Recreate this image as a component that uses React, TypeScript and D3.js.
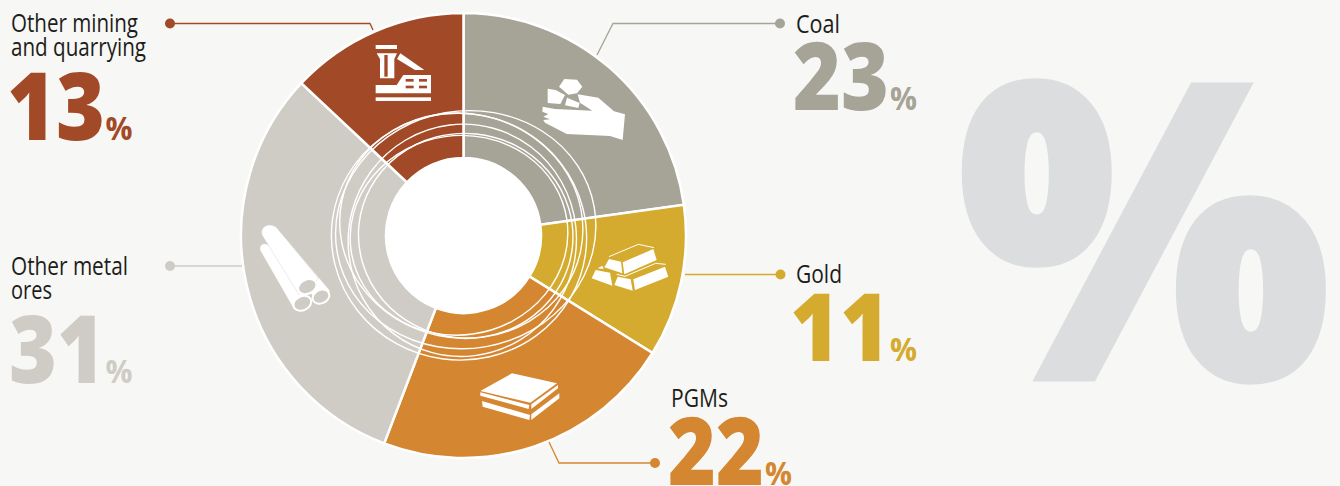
import React from "react";
import * as d3 from "d3";

const categories = ["Coal", "Gold", "PGMs", "Other metal ores", "Other mining and quarrying"];
const values = [22.8, 11.05, 21.95, 31.2, 13];
const colours = ["#a6a397", "#d4ab2e", "#d58630", "#cfccc5", "#a24a28"];

const BG = "#f7f7f5";
const CX = 463.5;
const CY = 235.5;
const OUTER = 222.5;
const INNER = 77.5;
const SANS = "'Open Sans', 'Noto Sans', sans-serif";

const ringRx = [127.7, 130.5, 114, 107.3, 109, 122];
const ringRy = [123.3, 118.7, 116.3, 102.3, 99.7, 112.3];
const ringDx = [-4.5, 2.2, -1.2, 2.2, -4.5, -2.2];
const ringDy = [1.2, -5.8, 4.8, 0.2, -0.2, -9.8];
const ringRot = [8, -10, 15, 6, -8, 12];

type Lab = { lines: string[]; lineX: number; baselines: number[]; widths: number[]; num: string; numX: number; numW: number; numY: number; pctX: number; leader: [number, number][] };

const labels: Lab[] = [
  { lines: ["Coal"], lineX: 796, baselines: [33], widths: [44], num: "23", numX: 793, numW: 96, numY: 110, pctX: 890, leader: [[780, 23.5], [613, 23.5], [597, 55]] },
  { lines: ["Gold"], lineX: 796, baselines: [283], widths: [46], num: "11", numX: 790, numW: 100, numY: 361, pctX: 890, leader: [[780.5, 274.5], [685, 274.5]] },
  { lines: ["PGMs"], lineX: 671, baselines: [407], widths: [57], num: "22", numX: 668, numW: 96, numY: 485, pctX: 765, leader: [[655, 463], [559, 463], [549, 442]] },
  { lines: ["Other metal", "ores"], lineX: 11, baselines: [275, 299], widths: [117, 41], num: "31", numX: 9, numW: 96, numY: 383, pctX: 105.5, leader: [[170, 266], [242, 266]] },
  { lines: ["Other mining", "and quarrying"], lineX: 11, baselines: [32, 56], widths: [127, 135], num: "13", numX: 7, numW: 98, numY: 140, pctX: 105.5, leader: [[170, 23.5], [370, 23.5], [373, 30]] },
];

function Icons() {
  const w = "#fff";
  return (
    <g fill={w}>
      {/* mining */}
      <g transform="translate(365,35) scale(0.3333)">
        <rect x="32" y="30" width="64" height="12" />
        <path d="M35 55H96L88 72V130H45V72Z" />
        <rect x="58" y="60" width="10" height="65" fill={colours[4]} />
        <path d="M106 55L178 105H150L96 72Z" />
        <path d="M32 150H95L115 120H198V175H32Z" />
        <g fill={colours[4]}>
          <rect x="122" y="132" width="24" height="8" />
          <rect x="162" y="132" width="24" height="8" />
          <rect x="122" y="152" width="24" height="8" />
          <rect x="162" y="152" width="24" height="8" />
        </g>
        <rect x="32" y="187" width="166" height="11" />
      </g>
      {/* coal */}
      <g transform="translate(535,70) scale(0.3333)">
        <path d="M88 27L126 29L142 50L126 70L100 74L72 50Z" />
        <path d="M38 56L62 60L90 75L76 102L38 99Z" />
        <path d="M96 83L134 99L130 114L90 106Z" />
        <path d="M23 110L60 117L172 122L135 98L128 73L190 83L237 124L270 133L263 210L225 198L95 192L30 158L25 150L45 148L25 140L40 132L22 125Z" />
      </g>
      {/* gold */}
      <g transform="translate(585,235) scale(0.3333)">
        <path d="M58 97L72 72L108 80L112 115Z" />
        <path d="M113 82L205 42L215 75L118 118Z" />
        <path d="M72 65L160 28L207 38" fill="none" stroke={w} strokeWidth="3" />
        <path d="M20 130L32 105L75 113L82 152Z" />
        <path d="M38 100L52 92L56 102Z" />
        <path d="M88 150L98 125L137 133L143 167Z" />
        <path d="M145 133L240 95L250 125L150 165Z" />
        <path d="M95 118L120 124L212 85L242 88" fill="none" stroke={w} strokeWidth="3" />
      </g>
      {/* platinum plates */}
      <g transform="translate(472,365) scale(0.3333)">
        <path d="M25 78L120 25L255 55L175 113Z" />
        <path d="M25 82L172 120L170 132L25 92Z" />
        <path d="M178 118L258 60L258 70L178 132Z" />
        <path d="M30 108L174 150L172 165L32 125Z" />
        <path d="M178 148L262 85L262 100L178 165Z" />
      </g>
      {/* pipes */}
      <g transform="translate(250,220) scale(0.3333)" stroke={colours[3]} strokeWidth="1.2">
        <path d="M104 52L240 212L205 248L150 180Z" />
        <path d="M31 92C25 72 45 65 58 78L175 205L132 268Z" />
        <path d="M36 45C28 15 68 5 84 28L206 176L147 224Z" />
        <ellipse cx="172" cy="200" rx="29" ry="21" transform="rotate(-25 172 200)" stroke={w} strokeWidth="6" fill={colours[3]} />
        <ellipse cx="213" cy="230" rx="26" ry="20" transform="rotate(-25 213 230)" stroke={w} strokeWidth="6" fill={colours[3]} />
        <ellipse cx="157" cy="250" rx="28" ry="21" transform="rotate(-25 157 250)" stroke={w} strokeWidth="6" fill={colours[3]} />
      </g>
    </g>
  );
}

export default function App() {
  const pie = d3.pie<number>().sort(null).value((d) => d);
  const arc = d3.arc<d3.PieArcDatum<number>>().innerRadius(INNER).outerRadius(OUTER);
  const arcs = pie(values);
  const lineGen = d3.line();

  return (
    <svg width={1340} height={486} style={{ position: "absolute", left: 0, top: 0, background: BG }} fontFamily={SANS}>
      <rect width={1340} height={486} fill={BG} />
      <text x={957} y={379} fontSize={412} fontWeight={800} fill="#dcdddf" stroke="#dcdddf" strokeWidth={5} textLength={374} lengthAdjust="spacingAndGlyphs">%</text>

      <g>
        {arcs.map((a, i) => (
          <path key={categories[i]} transform={`translate(${CX},${CY})`} d={arc(a) ?? ""} fill={colours[i]} stroke="#fff" strokeWidth={2.5} />
        ))}
      </g>
      <circle cx={CX} cy={CY} r={INNER} fill="#fff" />

      <g fill="none" stroke="#fff" strokeWidth={1.4}>
        {ringRx.map((rx, i) => (
          <ellipse key={i} cx={CX + ringDx[i]} cy={CY + ringDy[i]} rx={rx} ry={ringRy[i]} transform={`rotate(${ringRot[i]} ${CX + ringDx[i]} ${CY + ringDy[i]})`} />
        ))}
      </g>

      <Icons />

      {labels.map((l, i) => (
        <g key={categories[i]}>
          <path d={lineGen(l.leader) ?? ""} fill="none" stroke={colours[i]} strokeWidth={1.3} />
          <circle cx={l.leader[0][0]} cy={l.leader[0][1]} r={5} fill={colours[i]} />
          {l.lines.map((t, j) => (
            <text key={t} x={l.lineX} y={l.baselines[j]} fontSize={26} fontWeight={400} fill="#1d1d1b" textLength={l.widths[j]} lengthAdjust="spacingAndGlyphs">{t}</text>
          ))}
          <text x={l.numX} y={l.numY} fontSize={94} fontWeight={800} fill={colours[i]} textLength={l.numW} lengthAdjust="spacingAndGlyphs">{l.num}</text>
          <text x={l.pctX} y={l.numY} fontSize={33} fontWeight={700} fill={colours[i]} textLength={27} lengthAdjust="spacingAndGlyphs">%</text>
        </g>
      ))}
    </svg>
  );
}
